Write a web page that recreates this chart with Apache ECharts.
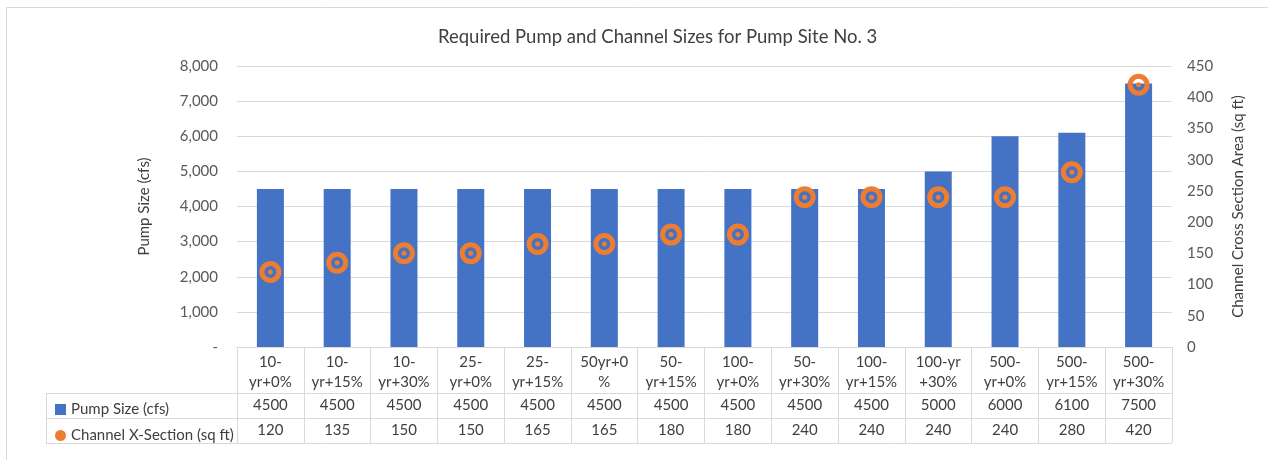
<!DOCTYPE html>
<html>
<head>
<meta charset="utf-8">
<script src="https://cdn.jsdelivr.net/npm/echarts@6/dist/echarts.min.js"></script>
<style>
html,body{margin:0;padding:0;background:#fff;}
#chart{width:1268px;height:460px;}
</style>
</head>
<body>
<div id="chart"></div>
<script>
// ---- data ----
const categories = ["10-\nyr+0%", "10-\nyr+15%", "10-\nyr+30%", "25-\nyr+0%", "25-\nyr+15%", "50yr+0\n%", "50-\nyr+15%", "100-\nyr+0%", "50-\nyr+30%", "100-\nyr+15%", "100-yr\n+30%", "500-\nyr+0%", "500-\nyr+15%", "500-\nyr+30%"];
const pumpSize = [4500, 4500, 4500, 4500, 4500, 4500, 4500, 4500, 4500, 4500, 5000, 6000, 6100, 7500];
const channelArea = [120, 135, 150, 150, 165, 165, 180, 180, 240, 240, 240, 240, 280, 420];
const seriesNames = ["Pump Size (cfs)", "Channel X-Section (sq ft)"];
const titleText = "Required Pump and Channel Sizes for Pump Site No. 3";
const leftAxisName = "Pump Size (cfs)";
const rightAxisName = "Channel Cross Section Area (sq ft)";

const FONT = "Lato";
const FS = 15;
const BLUE = "#4472C4", ORANGE = "#ED7D31", LINE = "#d9d9d9";
const G = {left: 237, top: 66, width: 935, height: 281};
const tableLeft = 46;
const rowY = [393, 418, 443];

const chart = echarts.init(document.getElementById('chart'), null, {renderer: 'canvas'});

const graphics = [
  {type: 'rect', silent: true, shape: {x: 6.5, y: 7.5, width: 1400, height: 600}, style: {fill: 'none', stroke: LINE, lineWidth: 1}}
];
rowY.forEach(y => graphics.push({type: 'line', silent: true, shape: {x1: tableLeft, y1: y + 0.5, x2: G.left + G.width, y2: y + 0.5}, style: {stroke: LINE, lineWidth: 1}}));
graphics.push({type: 'line', silent: true, shape: {x1: tableLeft + 0.5, y1: rowY[0], x2: tableLeft + 0.5, y2: rowY[2]}, style: {stroke: LINE, lineWidth: 1}});

const rowAxis = (data, offset, margin) => ({
  type: 'category', data: data.map(String), gridIndex: 0, position: 'bottom', offset: offset,
  axisLine: {show: false}, axisTick: {show: false}, splitLine: {show: false},
  axisLabel: {interval: 0, margin: margin, fontFamily: FONT, fontSize: FS, color: '#404040', lineHeight: 17}
});

chart.setOption({
  animation: false,
  backgroundColor: '#fff',
  title: {text: titleText, left: 433, top: 23, textStyle: {fontFamily: FONT, fontSize: 18.5, fontWeight: 'normal', color: '#404040'}},
  grid: {left: G.left, top: G.top, width: G.width, height: G.height, containLabel: false},
  legend: {
    orient: 'vertical', left: 50, top: 396, itemGap: 9, itemWidth: 11, itemHeight: 11, selectedMode: false,
    textStyle: {fontFamily: FONT, fontSize: FS, color: '#404040', lineHeight: 17},
    data: [
      {name: seriesNames[0], icon: 'rect'},
      {name: seriesNames[1], icon: 'circle', itemStyle: {color: ORANGE, borderWidth: 0}}
    ]
  },
  xAxis: [
    {
      type: 'category', data: categories, gridIndex: 0, position: 'bottom',
      axisLine: {show: true, lineStyle: {color: LINE}},
      axisTick: {show: true, length: 96, lineStyle: {color: LINE}},
      axisLabel: {interval: 0, margin: 5, fontFamily: FONT, fontSize: FS, color: '#404040', lineHeight: 20},
      splitLine: {show: false}
    },
    rowAxis(pumpSize, 46, 4),
    rowAxis(channelArea, 71, 4)
  ],
  yAxis: [
    {
      type: 'value', min: 0, max: 8000, interval: 1000, position: 'left',
      name: leftAxisName, nameLocation: 'middle', nameGap: 85, nameRotate: 90,
      nameTextStyle: {fontFamily: FONT, fontSize: FS, color: '#404040'},
      axisLine: {show: false}, axisTick: {show: false},
      axisLabel: {margin: 19, fontFamily: FONT, fontSize: FS, color: '#595959',
        formatter: v => v === 0 ? '-' : v.toLocaleString('en-US')},
      splitLine: {show: true, lineStyle: {color: LINE}}
    },
    {
      type: 'value', min: 0, max: 450, interval: 50, position: 'right',
      name: rightAxisName, nameLocation: 'middle', nameGap: 59, nameRotate: 90,
      nameTextStyle: {fontFamily: FONT, fontSize: FS, color: '#404040'},
      axisLine: {show: false}, axisTick: {show: false},
      axisLabel: {margin: 15, fontFamily: FONT, fontSize: FS, color: '#595959'},
      splitLine: {show: false}
    }
  ],
  series: [
    {name: seriesNames[0], type: 'bar', xAxisIndex: 0, yAxisIndex: 0, data: pumpSize, barWidth: 27,
      itemStyle: {color: BLUE}},
    {name: seriesNames[1], type: 'scatter', xAxisIndex: 0, yAxisIndex: 1, data: channelArea,
      symbol: 'circle', symbolSize: 17, z: 3,
      itemStyle: {color: 'rgba(0,0,0,0)', borderColor: ORANGE, borderWidth: 5, opacity: 1}},
    {name: 'dot', type: 'scatter', xAxisIndex: 0, yAxisIndex: 1, data: channelArea,
      symbol: 'circle', symbolSize: 5, z: 4, itemStyle: {color: ORANGE, opacity: 1}}
  ],
  graphic: graphics
});
</script>
</body>
</html>
